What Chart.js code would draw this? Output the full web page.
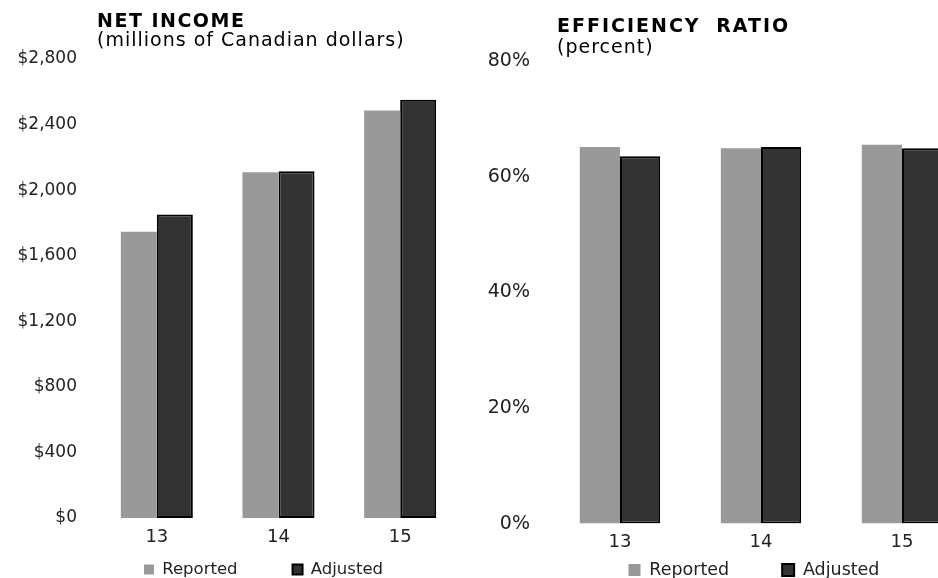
<!DOCTYPE html>
<html>
<head>
<meta charset="utf-8">
<script src="https://cdn.jsdelivr.net/npm/chart.js@4.4.1/dist/chart.umd.min.js"></script>
<style>
  html, body { margin: 0; padding: 0; background: #fff; }
  #stage { position: relative; width: 938px; height: 578px; overflow: hidden; background: #fff; }
  #incomeBox { position: absolute; left: 0; top: 0; }
  #ratioBox { position: absolute; left: 470px; top: 0; }
  canvas { display: block; }
</style>
</head>
<body>
<div id="stage">
  <div id="incomeBox"><canvas id="income" width="470" height="578"></canvas></div>
  <div id="ratioBox"><canvas id="ratio" width="520" height="578"></canvas></div>
</div>
<script>
// Fiscal years shown on both panels
const years = ['13', '14', '15'];
const seriesNames = ['Reported', 'Adjusted'];

// Net income, millions of Canadian dollars
const incomeReported = [1746, 2109, 2486];
const incomeAdjusted = [1852, 2115, 2552];
const incomeTicks = [0, 400, 800, 1200, 1600, 2000, 2400, 2800];

// Efficiency ratio, percent
const ratioReported = [65.2, 65.0, 65.6];
const ratioAdjusted = [63.6, 65.2, 65.0];
const ratioTicks = [0, 20, 40, 60, 80];

const incomeTitle = 'NET INCOME';
const incomeSubtitle = '(millions of Canadian dollars)';
const ratioTitle = 'EFFICIENCY RATIO';
const ratioSubtitle = '(percent)';

const FONT = "'DejaVu Sans', sans-serif";
const TEXT = '#222222';
const REPORTED_FILL = '#999999';
const ADJUSTED_FILL = '#333333';

// Draws the two-line heading of each panel above its plot area
const panelHeading = {
  id: 'panelHeading',
  afterDraw(chart, args, opts) {
    const ctx = chart.ctx;
    ctx.save();
    ctx.fillStyle = '#000';
    ctx.textAlign = 'left';
    ctx.textBaseline = 'alphabetic';
    for (const line of opts.lines || []) {
      ctx.font = line.font;
      ctx.letterSpacing = (line.letterSpacing || 0) + 'px';
      ctx.wordSpacing = (line.wordSpacing || 0) + 'px';
      ctx.fillText(line.text, line.x, line.y);
    }
    ctx.restore();
  }
};

// Moves the legend row so it is centred on a given x and its text sits on a given y
const legendPlacement = {
  id: 'legendPlacement',
  afterLayout(chart, args, opts) {
    const lg = chart.legend;
    if (!lg) return;
    const lab = lg.options.labels;
    const half = (lg.right - lg.left) / 2;
    lg.left = opts.centerX - half;
    lg.right = opts.centerX + half;
    lg.top = opts.textY - lab.padding - lab.font.size / 2;
    lg.bottom = chart.height;
  }
};

function fixedTicks(values) {
  return function (scale) {
    scale.ticks = values.map(v => ({ value: v }));
  };
}

function panel(canvasId, cfg) {
  return new Chart(document.getElementById(canvasId), {
    type: 'bar',
    data: {
      labels: years,
      datasets: [
        {
          label: seriesNames[0],
          data: cfg.reported,
          backgroundColor: REPORTED_FILL,
          borderColor: REPORTED_FILL,
          borderWidth: 0
        },
        {
          label: seriesNames[1],
          data: cfg.adjusted,
          backgroundColor: ADJUSTED_FILL,
          borderColor: '#000000',
          borderWidth: 2,
          borderSkipped: false
        }
      ]
    },
    options: {
      responsive: false,
      animation: false,
      layout: { padding: cfg.padding },
      datasets: {
        bar: { categoryPercentage: cfg.categoryPercentage, barPercentage: 1 }
      },
      scales: {
        x: {
          grid: { display: false, drawTicks: false },
          border: { display: false },
          ticks: { color: TEXT, font: { family: FONT, size: 18 }, padding: cfg.xTickPadding }
        },
        y: {
          min: 0,
          max: cfg.ticks[cfg.ticks.length - 1],
          grid: { display: false, drawTicks: false },
          border: { display: false },
          afterBuildTicks: fixedTicks(cfg.ticks),
          afterFit(scale) { scale.width = cfg.yAxisWidth; },
          ticks: {
            autoSkip: false,
            color: TEXT,
            padding: cfg.yTickPadding,
            font: { family: FONT, size: cfg.yFontSize },
            callback: cfg.format
          }
        }
      },
      plugins: {
        legend: {
          position: 'bottom',
          maxHeight: cfg.legendHeight,
          labels: {
            color: TEXT,
            font: { family: FONT, size: cfg.legendFontSize },
            boxWidth: cfg.legendBox,
            boxHeight: cfg.legendBox,
            padding: cfg.legendGap
          }
        },
        tooltip: { enabled: false },
        panelHeading: { lines: cfg.heading },
        legendPlacement: cfg.legendAt
      }
    },
    plugins: [panelHeading, legendPlacement]
  });
}

panel('income', {
  reported: incomeReported,
  adjusted: incomeAdjusted,
  ticks: incomeTicks,
  format: v => '$' + Number(v).toLocaleString('en-US'),
  padding: { left: 10, right: 9, top: 59, bottom: 0 },
  yAxisWidth: 86,
  yTickPadding: 19,
  yFontSize: 17,
  xTickPadding: 9,
  categoryPercentage: 0.592,
  legendFontSize: 16.5,
  legendBox: 10,
  legendGap: 55,
  legendHeight: 20.4,
  legendAt: { centerX: 263.5, textY: 569.5 },
  heading: [
    { text: incomeTitle, font: "bold 19px " + FONT, x: 97, y: 27, letterSpacing: 1.5 },
    { text: incomeSubtitle, font: "19px " + FONT, x: 97, y: 46, letterSpacing: 1 }
  ]
});

panel('ratio', {
  reported: ratioReported,
  adjusted: ratioAdjusted,
  ticks: ratioTicks,
  format: v => v + '%',
  padding: { left: 10, right: 17.5, top: 61.5, bottom: 0 },
  yAxisWidth: 69.5,
  yTickPadding: 19.5,
  yFontSize: 19,
  xTickPadding: 8,
  categoryPercentage: 0.57,
  legendFontSize: 17.5,
  legendBox: 12,
  legendGap: 53,
  legendHeight: 16.8,
  legendAt: { centerX: 284, textY: 570 },
  heading: [
    { text: ratioTitle, font: "bold 19px " + FONT, x: 87, y: 32, letterSpacing: 2, wordSpacing: 7 },
    { text: ratioSubtitle, font: "19px " + FONT, x: 87, y: 53, letterSpacing: 1 }
  ]
});
</script>
</body>
</html>
